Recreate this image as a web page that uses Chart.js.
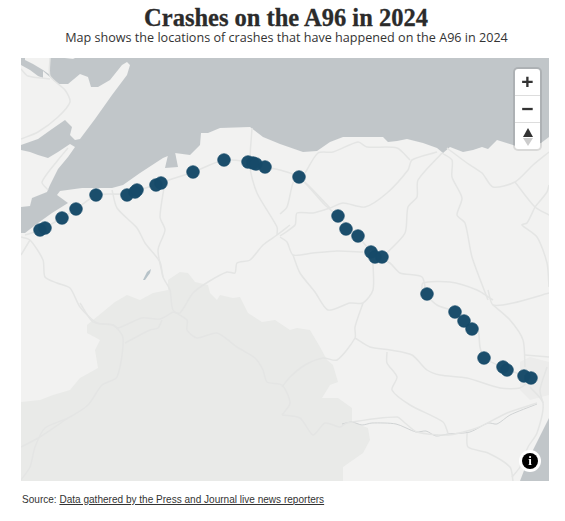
<!DOCTYPE html>
<html>
<head>
<meta charset="utf-8">
<title>Crashes on the A96 in 2024</title>
<script src="https://cdn.jsdelivr.net/npm/chart.js@4.4.2/dist/chart.umd.min.js"></script>
<style>
  html, body { margin: 0; padding: 0; background: #fff; }
  body { position: relative; width: 565px; height: 521px; overflow: hidden; }
  h1 { position: absolute; left: 0; width: 572px; top: 3px; margin: 0; text-align: center; color: #2b2b2b;
       font: bold 24.5px/30px "Liberation Serif", serif; -webkit-text-stroke: 0.3px #2b2b2b; }
  #sub { position: absolute; left: 0; width: 573px; top: 29px; text-align: center; color: #333;
         font: 12.6px/18px "Open Sans", sans-serif; }
  #map { position: absolute; left: 21px; top: 58px; width: 528px; height: 423px; background: #c1c6c9; }
  #source { position: absolute; left: 22px; top: 493px; color: #333; font: 10.05px/13px "Liberation Sans", sans-serif; }
  #source u { text-decoration: underline; }
  #ctrl { position: absolute; left: 513px; top: 67px; width: 25px; background: #fff; border: 2px solid rgba(0,0,0,.1);
          border-radius: 5px; background-clip: padding-box; }
  #ctrl div { height: 26px; line-height: 26px; text-align: center; color: #333; font: bold 21px/25px "Liberation Sans", sans-serif;
              border-top: 1px solid #ddd; }
  #ctrl div:first-child { border-top: 0; }
  #ctrl svg { display: block; margin: 5px auto 0; }
  #info { position: absolute; left: 519px; top: 450px; width: 22px; height: 22px; border-radius: 50%; background: #fff; }
  #info span { position: absolute; left: 3px; top: 3px; width: 16px; height: 16px; border-radius: 50%; background: #000; color: #fff;
               text-align: center; font: bold 13px/16px "Liberation Serif", serif; }
</style>
</head>
<body>
<h1>Crashes on the A96 in 2024</h1>
<div id="sub">Map shows the locations of crashes that have happened on the A96 in 2024</div>
<canvas id="map" width="528" height="423"></canvas>
<div id="ctrl">
  <div>+</div>
  <div>&#8722;</div>
  <div><svg width="12" height="18" viewBox="0 0 12 18"><path d="M6 0L11 9H1Z" fill="#333"/><path d="M1 10H11L6 18Z" fill="#ccc"/></svg></div>
</div>
<div id="info"><span>i</span></div>
<div id="source">Source: <u>Data gathered by the Press and Journal live news reporters</u></div>
<script>
// Crash locations, map units
const crashX = [40, 45, 62, 76, 96, 127, 135, 137, 156, 161, 193, 224, 248, 253, 256, 265, 299, 338, 346, 358, 371, 375, 382, 427, 455, 464, 472, 484, 503, 507, 524, 531];
const crashY = [230, 228, 218, 209, 195, 195, 192, 190, 185, 183, 172, 160, 162, 163, 164, 167, 177, 216, 229, 236, 252, 257, 257, 294, 312, 321, 329, 358, 367, 370, 376, 378];

// Land and water shapes
const mainland = [[21,233],[25,233],[38,223],[52,213],[68,203],[57,195],[60,191],[82,188],[112,188],[123,185],[140,173],[163,158],[175,153],[190,155],[200,145],[201,133],[208,133],[220,128],[250,127],[263,137],[280,144],[303,152],[317,151],[330,142],[343,137],[383,137],[388,142],[397,141],[407,139],[423,143],[437,148],[443,153],[450,147],[463,152],[473,150],[482,147],[488,149],[497,140],[513,145],[521,148],[541,143],[549,137],[549,418],[538,440],[528,460],[520,481],[21,481]];
const northShore = [[21,65],[30,70],[38,76],[43,78],[43,71],[50,77],[58,84],[68,84],[80,74],[88,77],[91,87],[98,87],[110,80],[122,65],[127,62],[130,65],[127,75],[112,95],[95,119],[80,139],[75,140],[70,135],[72,127],[65,120],[52,129],[38,139],[21,145]];
const northTip = [[25,58],[50,58],[50,75],[43,70],[33,64],[25,60]];
const northSliver = [[65,58],[75,58],[73,59]];
const blackIsle = [[21,150],[30,152],[38,155],[48,158],[58,152],[70,144],[75,147],[68,157],[58,169],[50,185],[47,192],[32,198],[30,206],[21,207]];
const findhornBay = [[168,155],[175,152],[178,167],[165,168]];
const loch = [[143,280],[147,272],[151,269],[150,273],[145,280]];
const uplands = [[21,402],[40,400],[53,395],[70,390],[80,378],[98,368],[95,350],[100,340],[87,333],[87,325],[115,302],[127,295],[140,300],[153,293],[168,290],[168,280],[180,272],[188,273],[195,282],[208,285],[210,293],[217,300],[220,295],[233,298],[240,297],[248,313],[262,322],[275,320],[290,330],[297,328],[310,330],[320,347],[327,360],[333,365],[338,382],[330,385],[322,398],[338,398],[352,408],[352,422],[368,428],[370,440],[363,453],[343,467],[343,481],[21,481]];
const cityPatch = [[520,362],[530,357],[549,362],[549,395],[530,400],[520,390]];

// Roads
const a96 = [[25,235],[40,230],[62,218],[76,209],[97,195],[127,194],[137,191],[157,184],[193,172],[224,160],[248,162],[265,167],[280,170],[299,177],[325,205],[338,216],[358,236],[375,256],[390,263],[400,273],[422,277],[427,295],[437,305],[455,312],[472,328],[478,330],[480,347],[484,358],[505,368],[524,376],[530,378]];
const roads = [
  [[21,139],[38,132],[58,117],[70,102],[65,90],[50,76],[50,58]],
  [[21,69],[28,76],[50,79]],
  [[68,148],[58,160],[42,182],[48,190]],
  [[21,237],[30,240],[43,260],[45,277],[57,283],[70,288],[80,307],[97,323],[113,325],[123,338],[117,377],[102,385],[88,405],[68,418],[45,428],[35,447],[30,467],[21,480]],
  [[21,255],[30,240]],
  [[68,418],[40,437],[21,447]],
  [[112,190],[117,208],[137,228],[145,243],[160,262],[163,277],[170,290],[173,310],[187,320],[187,330],[197,338],[217,333],[237,347],[255,358],[263,370],[267,382],[282,385],[290,403],[282,415]],
  [[165,182],[160,217],[165,230],[158,250],[163,277]],
  [[80,303],[93,322],[113,325],[118,328],[142,318],[160,319],[173,312]],
  [[125,343],[150,330],[158,328],[162,320]],
  [[173,312],[180,313],[193,293],[208,282],[227,272],[235,273],[237,263],[250,260],[263,245],[277,235],[290,225]],
  [[252,128],[250,167],[257,193],[277,227],[277,235]],
  [[299,177],[293,183],[287,207],[280,214]],
  [[280,236],[295,225],[297,213],[313,213],[330,208],[343,203],[365,207],[387,193],[408,170],[412,160],[437,152]],
  [[299,177],[310,187],[330,208]],
  [[305,173],[318,153],[333,152],[358,142],[367,147],[397,148],[410,160]],
  [[442,153],[418,180],[417,197],[408,207],[405,233],[387,253]],
  [[280,237],[287,242],[293,255],[313,253],[337,251],[363,252]],
  [[293,255],[300,273],[315,292],[328,310],[350,303],[363,303],[373,290],[373,263]],
  [[363,303],[355,327],[355,338],[337,360],[323,358],[305,365],[290,377],[282,387]],
  [[355,338],[370,347],[390,350],[412,355],[427,370],[440,375],[467,378],[500,388],[520,388],[530,380]],
  [[387,352],[387,363],[397,377],[392,390],[410,405],[443,422],[448,433]],
  [[282,415],[300,418],[313,435],[325,423],[340,427],[347,423],[397,417],[405,423],[417,432],[448,435],[477,428],[507,413],[537,403]],
  [[467,433],[468,447],[488,453],[510,467],[513,481]],
  [[488,290],[493,305],[513,303],[549,293]],
  [[493,305],[510,320],[523,340],[525,367]],
  [[525,355],[549,357]],
  [[530,387],[543,403],[537,433],[528,447],[520,467],[512,477]],
  [[547,367],[540,390],[543,403]],
  [[442,153],[452,160],[452,177],[462,198],[457,215],[465,223],[472,257],[488,300]],
  [[447,148],[467,163],[482,173],[493,187],[515,182],[533,165],[549,152]],
  [[515,182],[535,207],[549,215]],
  [[535,207],[547,192],[549,185]],
  [[535,207],[527,223],[522,225],[537,237],[547,263],[549,287]],
  [[422,293],[423,283],[450,282],[477,290],[493,300]]
];
// thin river line in the south
const river = [[342,424],[352,422],[362,425],[372,423],[396,424],[416,432],[426,431],[436,436],[448,434],[470,432],[488,423],[497,424],[510,415],[537,404]];

const toPoints = list => list.map(p => ({x: p[0], y: p[1]}));

const crashPoints = crashX.map((x, i) => ({x: x, y: crashY[i]}));

// polygons go under the line datasets, via the chart's own scales
const shapes = [
  {pts: mainland, color: '#f2f2f1'},
  {pts: northShore, color: '#f2f2f1'},
  {pts: northTip, color: '#f2f2f1'},
  {pts: northSliver, color: '#f2f2f1'},
  {pts: blackIsle, color: '#f2f2f1'},
  {pts: findhornBay, color: '#c1c6c9'},
  {pts: loch, color: '#b7c3c9'},
  {pts: uplands, color: '#e9eae8'},
  {pts: cityPatch, color: '#ececeb'}
];

const mapShapes = {
  id: 'mapShapes',
  beforeDatasetsDraw(chart) {
    const ctx = chart.ctx;
    const xs = chart.scales.x;
    const ys = chart.scales.y;
    shapes.forEach(s => {
      ctx.beginPath();
      s.pts.forEach((p, i) => {
        const px = xs.getPixelForValue(p[0]);
        const py = ys.getPixelForValue(p[1]);
        if (i === 0) {
          ctx.moveTo(px, py);
        } else {
          ctx.lineTo(px, py);
        }
      });
      ctx.closePath();
      ctx.fillStyle = s.color;
      ctx.fill();
    });
  }
};

const roadSet = (list, color, width) => ({
  type: 'line',
  data: toPoints(list),
  borderColor: color,
  borderWidth: width,
  pointRadius: 0,
  tension: 0.25,
  fill: false,
  order: 2
});

new Chart(document.getElementById('map').getContext('2d'), {
  type: 'scatter',
  data: {
    datasets: [
      {
        label: 'Crashes',
        data: crashPoints,
        pointRadius: 6.3,
        backgroundColor: 'rgba(22, 74, 105, 0.98)',
        borderColor: 'rgba(22, 74, 105, 0.7)',
        borderWidth: 1,
        order: 0
      },
      roadSet(a96, '#e4e5e4', 1.6),
      ...roads.map(r => roadSet(r, '#e4e5e4', 1.5)),
      roadSet(river, '#c6cacb', 0.8)
    ]
  },
  options: {
    responsive: false,
    animation: false,
    events: [],
    layout: {padding: 0, autoPadding: false},
    plugins: {legend: {display: false}, tooltip: {enabled: false}, title: {display: false}},
    scales: {
      x: {type: 'linear', min: 21, max: 549, display: false},
      y: {type: 'linear', min: 58, max: 481, reverse: true, display: false}
    }
  },
  plugins: [mapShapes]
});
</script>
</body>
</html>
